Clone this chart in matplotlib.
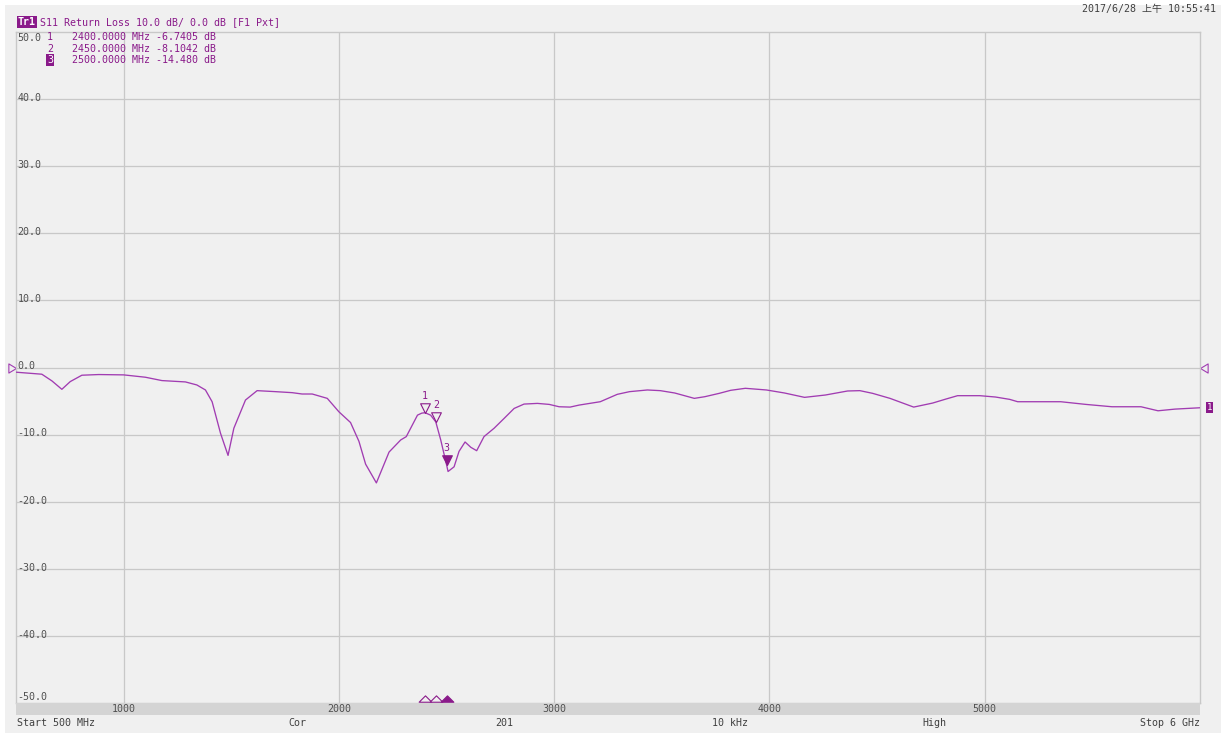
import matplotlib
matplotlib.use("Agg")
import matplotlib.pyplot as plt
from matplotlib.path import Path
from matplotlib.patches import Rectangle

# ---------------- data ----------------
freq_mhz = [500, 620, 667, 713, 752, 806, 884, 1000, 1101, 1178, 1287, 1340, 1380, 1411,
            1450, 1485, 1512, 1566, 1620, 1706, 1783, 1829, 1876, 1946, 2000, 2054, 2093,
            2124, 2174, 2233, 2287, 2313, 2365, 2385, 2400, 2426, 2450, 2473, 2500, 2507,
            2535, 2558, 2586, 2613, 2640, 2674, 2721, 2767, 2814, 2860, 2922, 2977, 3023,
            3074, 3116, 3214, 3293, 3350, 3433, 3493, 3560, 3651, 3700, 3767, 3820, 3888,
            3986, 4070, 4163, 4260, 4363, 4420, 4479, 4560, 4670, 4758, 4820, 4874, 4977,
            5050, 5116, 5153, 5353, 5470, 5591, 5726, 5805, 5884, 6000]
s11_db = [-0.7, -1.0, -2.0, -3.25, -2.1, -1.15, -1.05, -1.1, -1.45, -1.95, -2.15, -2.6, -3.35,
          -5.1, -9.8, -13.1, -9.05, -4.85, -3.45, -3.6, -3.75, -3.95, -3.95, -4.6, -6.6, -8.2,
          -11.0, -14.4, -17.2, -12.6, -10.8, -10.3, -7.1, -6.8, -6.7405, -7.1, -8.1042, -10.8,
          -14.48, -15.5, -14.8, -12.5, -11.1, -11.9, -12.4, -10.3, -9.05, -7.6, -6.1, -5.45,
          -5.35, -5.5, -5.85, -5.9, -5.6, -5.1, -4.0, -3.6, -3.35, -3.45, -3.8, -4.6, -4.35,
          -3.85, -3.4, -3.1, -3.35, -3.8, -4.45, -4.1, -3.5, -3.45, -3.85, -4.6, -5.9, -5.3,
          -4.7, -4.2, -4.2, -4.4, -4.75, -5.1, -5.1, -5.5, -5.85, -5.85, -6.45, -6.2, -6.0]

marker_ids = ["1", "2", "3"]
marker_freq = [2400, 2450, 2500]
marker_db = [-6.7405, -8.1042, -14.480]

x_ticks = [1000, 2000, 3000, 4000, 5000]
y_ticks = [50, 40, 30, 20, 10, 0, -10, -20, -30, -40, -50]
y_tick_labels = ["50.0", "40.0", "30.0", "20.0", "10.0", "0.0", "-10.0", "-20.0",
                 "-30.0", "-40.0", "-50.0"]
header = "S11 Return Loss 10.0 dB/ 0.0 dB [F1 Pxt]"
timestamp = "2017/6/28 上午 10:55:41"
status_items = ["Start 500 MHz", "Cor", "201", "10 kHz", "High", "Stop 6 GHz"]

# ---------------- style ----------------
W, H = 1221, 733
BG = "#f0f0f0"
GRID = "#c8c8c8"
TRACE = "#a13cb2"
PURPLE = "#8a1a8a"
GRAYTXT = "#505050"
MONO = ["DejaVu Sans Mono", "Noto Sans CJK SC"]
FS = 7.2

plt.rcParams["font.family"] = MONO

fig = plt.figure(figsize=(W / 100, H / 100), dpi=100, facecolor=BG)


def fx(px):
    return px / W


def fy(py):
    return 1 - py / H


# white strips at top/left edges
fig.patches.append(Rectangle((0, fy(5)), 1, 5 / H, transform=fig.transFigure,
                             facecolor="white", edgecolor="none", zorder=-10))
fig.patches.append(Rectangle((0, 0), 5 / W, 1, transform=fig.transFigure,
                             facecolor="white", edgecolor="none", zorder=-10))

L, R, T, B = 16, 1200, 32, 703
ax = fig.add_axes([fx(L), fy(B), (R - L) / W, (B - T) / H])
ax.set_facecolor(BG)
ax.set_xlim(500, 6000)
ax.set_ylim(-50, 50)
ax.set_xticks([])
ax.set_yticks([])
for s in ax.spines.values():
    s.set_color(GRID)
    s.set_linewidth(1.0)

for xv in x_ticks:
    ax.axvline(xv, color=GRID, lw=0.9, zorder=1)
for yv in y_ticks[1:-1]:
    ax.axhline(yv, color=GRID, lw=0.9, zorder=1)

# y labels inside plot
for yv, lab in zip(y_ticks, y_tick_labels):
    if yv == 50:
        ax.annotate(lab, (500, yv), xytext=(1, -0.5), textcoords="offset points",
                    ha="left", va="top", fontsize=FS, color=GRAYTXT)
    elif yv == -50:
        ax.annotate(lab, (500, yv), xytext=(1, 2.2), textcoords="offset points",
                    ha="left", va="baseline", fontsize=FS, color=GRAYTXT)
    else:
        ax.annotate(lab, (500, yv), xytext=(1, -1.3), textcoords="offset points",
                    ha="left", va="baseline", fontsize=FS, color=GRAYTXT)

# trace
ax.plot(freq_mhz, s11_db, color=TRACE, lw=0.95, zorder=3, solid_joinstyle="round")

# markers on trace (tip at the point)
tri_down = Path([(-0.5, 1.0), (0.5, 1.0), (0.0, 0.0), (-0.5, 1.0)],
                [Path.MOVETO, Path.LINETO, Path.LINETO, Path.CLOSEPOLY])
tri_up = Path([(-0.6, 0.12), (0.6, 0.12), (0.0, 0.72), (-0.6, 0.12)],
              [Path.MOVETO, Path.LINETO, Path.LINETO, Path.CLOSEPOLY])
for mid, mf, md in zip(marker_ids, marker_freq, marker_db):
    active = mid == "3"
    ax.plot([mf], [md], marker=tri_down, markersize=14,
            markerfacecolor=PURPLE if active else BG, markeredgecolor=PURPLE,
            markeredgewidth=0.8, zorder=5, linestyle="none")
    ax.annotate(mid, (mf, md), xytext=(0, 8.5), textcoords="offset points",
                ha="center", va="bottom", fontsize=FS, color=PURPLE, zorder=6)
    # bottom indicator
    ax.plot([mf], [-50], marker=tri_up, markersize=11,
            markerfacecolor=PURPLE if active else BG, markeredgecolor=PURPLE,
            markeredgewidth=0.8, zorder=6, linestyle="none", clip_on=False)

# reference level triangles
ref_right = Path([(-1.0, -0.6), (0.0, 0.0), (-1.0, 0.6), (-1.0, -0.6)],
                 [Path.MOVETO, Path.LINETO, Path.LINETO, Path.CLOSEPOLY])
ref_left = Path([(1.0, -0.6), (0.0, 0.0), (1.0, 0.6), (1.0, -0.6)],
                [Path.MOVETO, Path.LINETO, Path.LINETO, Path.CLOSEPOLY])
ax.plot([500], [0], marker=ref_right, markersize=11, markerfacecolor="none",
        markeredgecolor=TRACE, markeredgewidth=0.8, clip_on=False, linestyle="none")
ax.plot([6000], [0], marker=ref_left, markersize=11, markerfacecolor="none",
        markeredgecolor=TRACE, markeredgewidth=0.8, clip_on=False, linestyle="none")

# trace-end marker "1" box on the right
ax.annotate("1", (6000, s11_db[-1]), xytext=(7, 0), textcoords="offset points",
            ha="center", va="center", fontsize=6.5, color="white",
            bbox=dict(boxstyle="square,pad=0.12", facecolor=PURPLE, edgecolor="none"),
            annotation_clip=False)

# x-axis gray bar with labels
fig.patches.append(Rectangle((fx(L), fy(715)), (R - L) / W, 12 / H,
                             transform=fig.transFigure, facecolor="#d4d4d4",
                             edgecolor="none", zorder=0))
for xv in x_ticks:
    px = L + (xv - 500) / 5500 * (R - L)
    fig.text(fx(px), fy(709), str(xv), ha="center", va="center", fontsize=FS,
             color=GRAYTXT)

# header
fig.text(fx(18), fy(22), "Tr1", ha="left", va="center", fontsize=FS, color="white",
         fontweight="bold",
         bbox=dict(boxstyle="square,pad=0.12", facecolor=PURPLE, edgecolor="none"))
fig.text(fx(40), fy(22), header, ha="left", va="center", fontsize=FS, color=PURPLE)
fig.text(fx(1216), fy(9), timestamp, ha="right", va="center", fontsize=FS,
         color="#404040", family=MONO)

# marker table
rows_y = [37.5, 48.5, 60]
for mid, mf, md, ry in zip(marker_ids, marker_freq, marker_db, rows_y):
    if mid == "3":
        fig.text(fx(50), fy(ry), mid, ha="center", va="center", fontsize=FS,
                 color="white",
                 bbox=dict(boxstyle="square,pad=0.1", facecolor=PURPLE, edgecolor="none"))
        val = f"{md:.3f}"
    else:
        fig.text(fx(50), fy(ry), mid, ha="center", va="center", fontsize=FS,
                 color=PURPLE)
        val = f"{md:.4f}"
    fig.text(fx(72), fy(ry), f"{mf:.4f} MHz {val} dB", ha="left", va="center",
             fontsize=FS, color=PURPLE)

# status line
status_x = [17, 288, 495, 712, 922, 1200]
for i, (txt, sx) in enumerate(zip(status_items, status_x)):
    fig.text(fx(sx), fy(723), txt, ha="right" if i == len(status_items) - 1 else "left",
             va="center", fontsize=FS, color="#404040")

fig.savefig("out.png", dpi=100, facecolor=BG)
